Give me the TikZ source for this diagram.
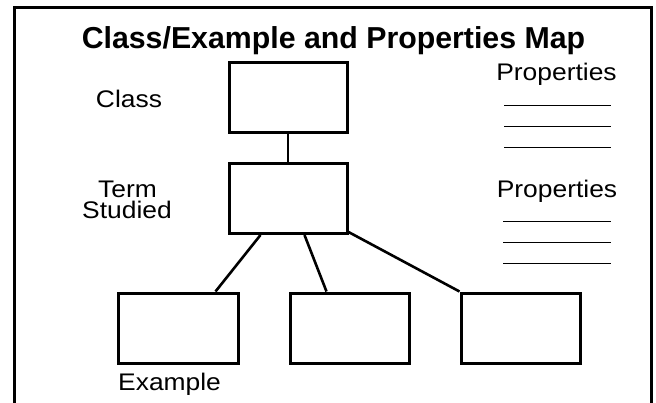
\documentclass[tikz,border=0pt]{standalone}
\usepackage{fontspec}
\setmainfont{Liberation Sans}
\newfontfamily\labelfont[FakeStretch=1.1]{Liberation Sans}
\usetikzlibrary{calc}
\begin{document}
\begin{tikzpicture}[x=1pt,y=-1pt,
  mapbox/.style={draw,line width=3pt,minimum width=118pt,minimum height=70pt,inner sep=0pt},
  link/.style={line width=2.6pt},
  label/.style={font=\labelfont\fontsize{24}{21}\selectfont,inner sep=0pt,anchor=base},
  blank/.style={line width=1pt}]
\useasboundingbox (0,0) rectangle (656,402);
% outer frame, open at the bottom
\draw[line width=3pt] (14,410) -- (14,7) -- (651,7) -- (651,410);
% title
\node[font=\bfseries\fontsize{30.3}{36}\selectfont,anchor=base,inner sep=0pt] (title) at (333.5,48) {Class/Example and Properties Map};
% boxes
\node[mapbox] (class) at (288,97) {};
\node[mapbox] (term) at (288,198.5) {};
\node[mapbox,minimum width=120pt] (ex1) at (178,328) {};
\node[mapbox,minimum width=119pt] (ex2) at (349.5,328) {};
\node[mapbox,minimum width=119pt] (ex3) at (520.5,328) {};
% connectors
\draw[link] (class.south) -- (term.north);
\draw[link] ($(term.south west)+(33,0)$) -- ($(ex1.north west)+(99,0)$);
\draw[link] ($(term.south west)+(77,0)$) -- ($(ex2.north west)+(38,0)$);
\draw[link] ($(term.south east)+(0,-3)$) -- (ex3.north west);
% side labels
\node[label] (lclass) at (129,107) {Class};
\node[label] (lterm) at (127.5,197) {Term};
\node[label] (lstudied) at (127,218) {Studied};
\node[label,anchor=base west] (lex) at (118,390) {Example};
% property lists
\node[label] (prop1) at (556.5,80) {Properties};
\node[label] (prop2) at (557,197) {Properties};
\foreach \y in {105,126,147} \draw[blank] (504,\y) -- (611,\y);
\foreach \y in {221,242,263} \draw[blank] (503,\y) -- (611,\y);
\end{tikzpicture}
\end{document}
